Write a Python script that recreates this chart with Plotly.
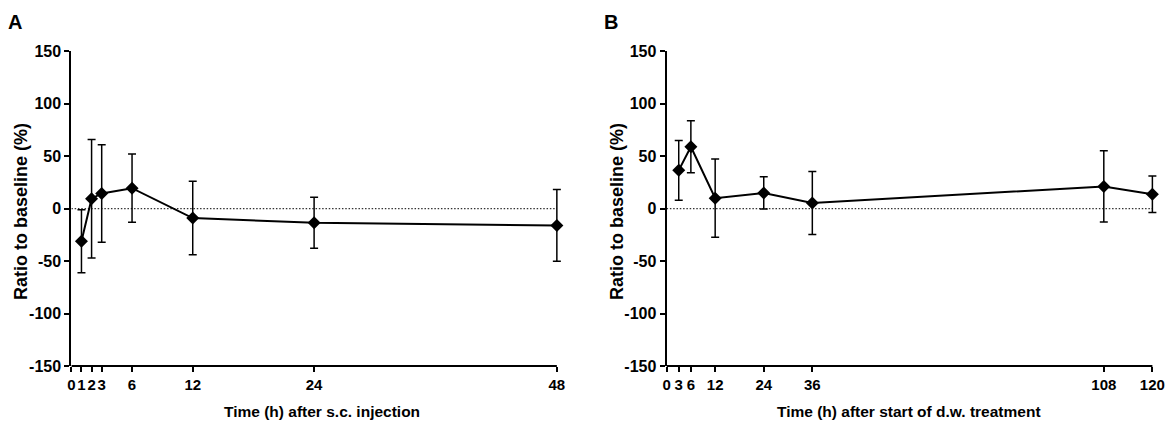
import plotly.graph_objects as go

# ---- data ----
A_time = [1, 2, 3, 6, 12, 24, 48]
A_mean = [-31, 9.5, 14.5, 19.5, -9, -13.5, -16]
A_err = [30, 56.5, 46.5, 32.5, 35, 24.3, 34.2]
A_ticks = [0, 1, 2, 3, 6, 12, 24, 48]

B_time = [3, 6, 12, 24, 36, 108, 120]
B_mean = [36.5, 59, 10, 15, 5.3, 21.2, 13.7]
B_err = [28.5, 24.8, 37.3, 15.4, 30, 34, 17.4]
B_ticks = [0, 3, 6, 12, 24, 36, 108, 120]

y_ticks = [-150, -100, -50, 0, 50, 100, 150]
y_ticktext = ["-150", "-100", "-50", "0", "50", "100", "150"]

W, H = 1170, 433
FONT = "Liberation Sans, Arial, sans-serif"

fig = go.Figure()

def add_series(t, m, e, xa, ya):
    fig.add_trace(go.Scatter(
        x=t, y=m, mode="lines+markers",
        line=dict(color="black", width=2),
        marker=dict(symbol="diamond", size=10, color="black"),
        error_y=dict(type="data", array=e, color="black", thickness=1.5, width=4),
        xaxis=xa, yaxis=ya, cliponaxis=False, showlegend=False,
    ))

add_series(A_time, A_mean, A_err, "x", "y")
add_series(B_time, B_mean, B_err, "x2", "y2")

ydom = [1 - 372.7 / H, 1 - 45 / H]
tick_common = dict(ticks="outside", ticklen=5, tickwidth=1.5, tickcolor="black",
                   showgrid=False, zeroline=False, tickangle=0)
xfont = dict(family=FONT, size=15, color="black", weight="bold")
yfont = dict(family=FONT, size=16, color="black", weight="bold")

A_x0, A_x48 = 67.7, 555.7
A_ppu = (A_x48 - A_x0) / 48
A_max = 49.5
B_x0, B_x120 = 666.0, 1154.3
B_ppu = (B_x120 - B_x0) / 120
B_max = 122.5

fig.update_layout(
    width=W, height=H,
    margin=dict(l=0, r=0, t=0, b=0),
    paper_bgcolor="white", plot_bgcolor="white",
    xaxis=dict(domain=[A_x0 / W, (A_x0 + A_max * A_ppu) / W], range=[0, A_max],
               tickvals=A_ticks, anchor="y", showline=False, tickfont=xfont, **tick_common),
    yaxis=dict(domain=ydom, range=[-150, 150], tickvals=y_ticks, ticktext=y_ticktext,
               anchor="x", showline=True, linewidth=2, linecolor="black",
               tickfont=yfont, **tick_common),
    xaxis2=dict(domain=[B_x0 / W, min(1.0, (B_x0 + B_max * B_ppu) / W)], range=[0, B_max],
                tickvals=B_ticks, anchor="y2", showline=False, tickfont=xfont, **tick_common),
    yaxis2=dict(domain=ydom, range=[-150, 150], tickvals=y_ticks, ticktext=y_ticktext,
                anchor="x2", showline=True, linewidth=2, linecolor="black",
                tickfont=yfont, **tick_common),
)

# x-axis lines ending at the last tick, and dotted zero lines
for xr, yr, xmax in [("x", "y", A_ticks[-1]), ("x2", "y2", B_ticks[-1])]:
    fig.add_shape(type="line", xref=xr, yref="paper", x0=0, x1=xmax,
                  y0=ydom[0], y1=ydom[0], line=dict(color="black", width=2))
    fig.add_shape(type="line", xref=xr, yref=yr, x0=0, x1=xmax, y0=0, y1=0,
                  line=dict(color="#333", width=1.2, dash="1.5px,1.8px"), layer="below")

ttl_x = dict(family=FONT, size=15.5, color="black", weight="bold")
ttl_y = dict(family=FONT, size=18, color="black", weight="bold")
letter = dict(family=FONT, size=20, color="black", weight="bold")
ann = [
    dict(text="A", x=11 / W, y=1 - 15 / H, font=letter),
    dict(text="B", x=610 / W, y=1 - 15 / H, font=letter),
    dict(text="Ratio to baseline (%)", x=16.5 / W, y=1 - 212 / H, textangle=-90, font=ttl_y),
    dict(text="Ratio to baseline (%)", x=615.5 / W, y=1 - 212 / H, textangle=-90, font=ttl_y),
    dict(text="Time (h) after s.c. injection", x=320 / W, y=1 - 420 / H, font=ttl_x),
    dict(text="Time (h) after start of d.w. treatment", x=910 / W, y=1 - 420 / H, font=ttl_x),
]
for a in ann:
    fig.add_annotation(xref="paper", yref="paper", xanchor="center", yanchor="middle",
                       showarrow=False, **a)

fig.write_html("out.html", config={"displayModeBar": False},
               post_script="document.body.style.margin='0';")
